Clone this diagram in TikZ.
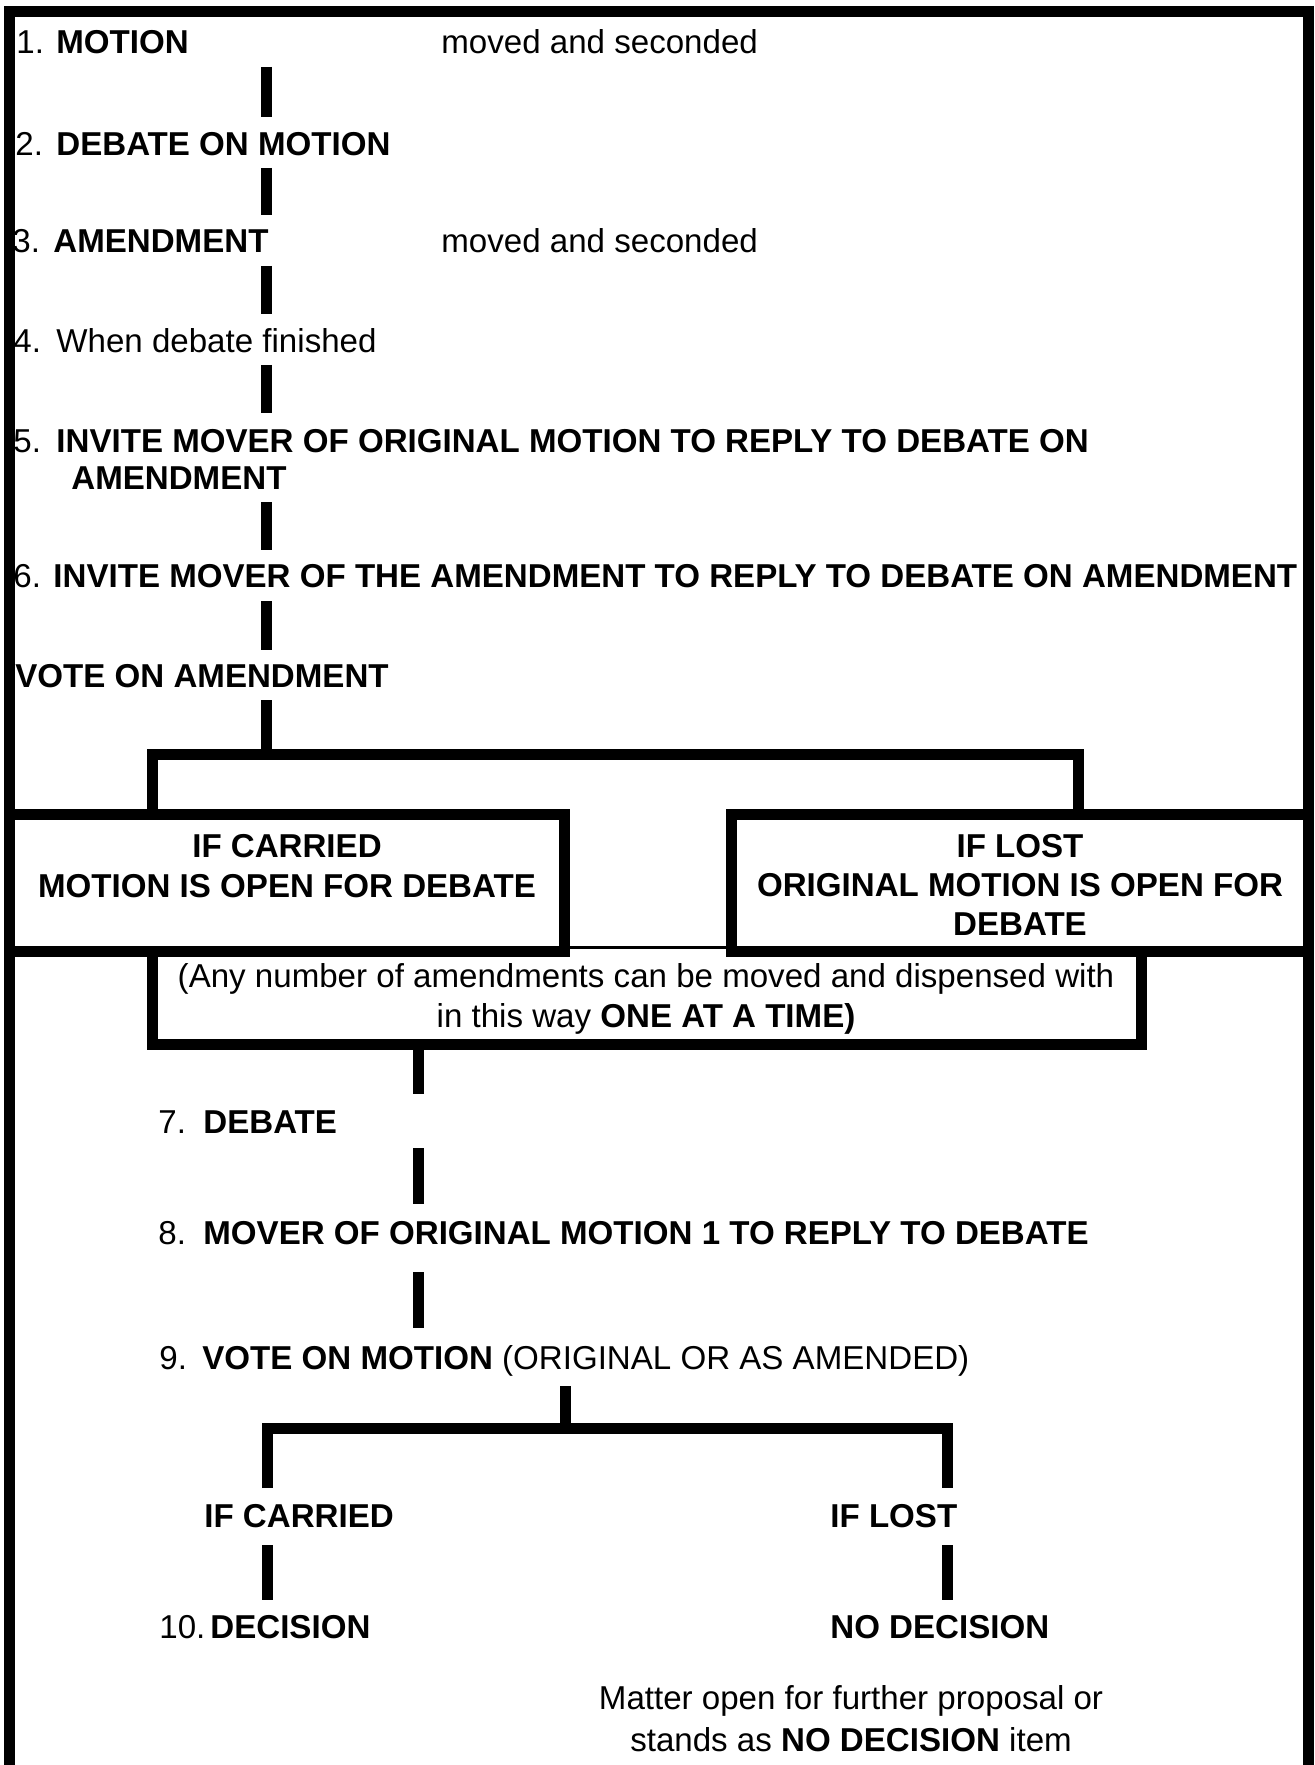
\documentclass[tikz,border=0pt]{standalone}
\usepackage{fontspec}
\setmainfont{Liberation Sans}
\begin{document}
\begin{tikzpicture}[x=0.5pt,y=-0.5pt,
  txt/.style={inner sep=0pt, anchor=base west, font=\fontsize{16.55}{19.75}\selectfont},
  ctr/.style={inner sep=0pt, anchor=base, font=\fontsize{16.55}{19.75}\selectfont},
  bar/.style={line width=5.5pt, line join=miter, line cap=butt},
  thinline/.style={line width=1.5pt}
]
\useasboundingbox (0,0) rectangle (1314,1765);
% outer frame (open at bottom)
\draw[bar] (9.5,1765) -- (9.5,12) -- (1308.5,12) -- (1308.5,1765);

% upper steps
\node[txt] (n1) at (16,54) {1.};
\node[txt] (t1) at (56,54) {\textbf{MOTION}};
\node[txt] (m1) at (441,54) {moved and seconded};
\node[txt] (n2) at (15,156) {2.};
\node[txt] (t2) at (56,156) {\textbf{DEBATE ON MOTION}};
\node[txt] (n3) at (12,253) {3.};
\node[txt] (t3) at (53,253) {\textbf{AMENDMENT}};
\node[txt] (m3) at (441,253) {moved and seconded};
\node[txt] (n4) at (13,352) {4.};
\node[txt] (t4) at (56,352) {When debate finished};
\node[txt] (n5) at (13,452) {5.};
\node[txt] (t5) at (56,452) {\textbf{INVITE MOVER OF ORIGINAL MOTION TO REPLY TO DEBATE ON}};
\node[txt] (t5b) at (71,489) {\textbf{AMENDMENT}};
\node[txt] (n6) at (13,587) {6.};
\node[txt] (t6) at (53,587) {\textbf{INVITE MOVER OF THE AMENDMENT TO REPLY TO DEBATE ON AMENDMENT}};
\node[txt] (tv) at (15,687) {\textbf{VOTE ON AMENDMENT}};

\coordinate (a1) at (266.5,67);  \coordinate (b1) at (266.5,117);
\coordinate (a2) at (266.5,168); \coordinate (b2) at (266.5,215);
\coordinate (a3) at (266.5,266); \coordinate (b3) at (266.5,314);
\coordinate (a4) at (266.5,365); \coordinate (b4) at (266.5,413);
\coordinate (a5) at (266.5,502); \coordinate (b5) at (266.5,550);
\coordinate (a6) at (266.5,601); \coordinate (b6) at (266.5,650);
\coordinate (a7) at (266.5,700); \coordinate (b7) at (266.5,754.5);
\foreach \i in {1,...,7} {\draw[bar] (a\i) -- (b\i);}
\coordinate (tl) at (152.5,809); \coordinate (tr) at (1078.5,809);
\draw[bar] (tl) -- (152.5,754.5) -- (1078.5,754.5) -- (tr);

% result boxes
\draw[bar] (9.5,814.5) rectangle (564.5,951.5);
\draw[bar] (731,814.5) rectangle (1308.5,951.5);
\node[ctr] (c1) at (287,857) {\textbf{IF CARRIED}};
\node[ctr] (c2) at (287,897) {\textbf{MOTION IS OPEN FOR DEBATE}};
\node[ctr] (l1) at (1020,857) {\textbf{IF LOST}};
\node[ctr] (l2) at (1020,896) {\textbf{ORIGINAL MOTION IS OPEN FOR}};
\node[ctr] (l3) at (1020,935) {\textbf{DEBATE}};

% amendments box
\draw[thinline] (152.5,947.5) -- (1141.5,947.5);
\draw[bar] (152.5,951.5) -- (152.5,1044) -- (1141.5,1044) -- (1141.5,951.5);
\node[ctr] (am1) at (646,987) {(Any number of amendments can be moved and dispensed with};
\node[ctr] (am2) at (646,1027) {in this way \textbf{ONE AT A TIME)}};

% lower steps
\node[txt] (n7) at (158,1133) {7.};
\node[txt] (t7) at (203,1133) {\textbf{DEBATE}};
\node[txt] (n8) at (158,1244) {8.};
\node[txt] (t8) at (203,1244) {\textbf{MOVER OF ORIGINAL MOTION 1 TO REPLY TO DEBATE}};
\node[txt] (n9) at (159,1369) {9.};
\node[txt] (t9) at (202,1369) {\textbf{VOTE ON MOTION} (ORIGINAL OR AS AMENDED)};

\coordinate (c7a) at (418,1049); \coordinate (c7b) at (418,1094);
\coordinate (c8a) at (418,1148); \coordinate (c8b) at (418,1204);
\coordinate (c9a) at (418,1272); \coordinate (c9b) at (418,1328);
\draw[bar] (c7a) -- (c7b);
\draw[bar] (c8a) -- (c8b);
\draw[bar] (c9a) -- (c9b);
\coordinate (v9a) at (565,1386); \coordinate (v9b) at (565,1428.5);
\draw[bar] (v9a) -- (v9b);
\coordinate (bl) at (267,1488); \coordinate (br) at (947.5,1488);
\draw[bar] (bl) -- (267,1428.5) -- (947.5,1428.5) -- (br);

\node[txt] (ic) at (204,1527) {\textbf{IF CARRIED}};
\node[txt] (il) at (830,1527) {\textbf{IF LOST}};
\coordinate (dla) at (267,1545); \coordinate (dlb) at (267,1600);
\coordinate (dra) at (947.5,1545); \coordinate (drb) at (947.5,1600);
\draw[bar] (dla) -- (dlb);
\draw[bar] (dra) -- (drb);
\node[txt] (n10) at (159,1638) {10.};
\node[txt] (t10) at (210,1638) {\textbf{DECISION}};
\node[txt] (nd) at (830,1638) {\textbf{NO DECISION}};
\node[ctr] (mt1) at (851,1709) {Matter open for further proposal or};
\node[ctr] (mt2) at (851,1751) {stands as \textbf{NO DECISION} item};
\end{tikzpicture}
\end{document}
